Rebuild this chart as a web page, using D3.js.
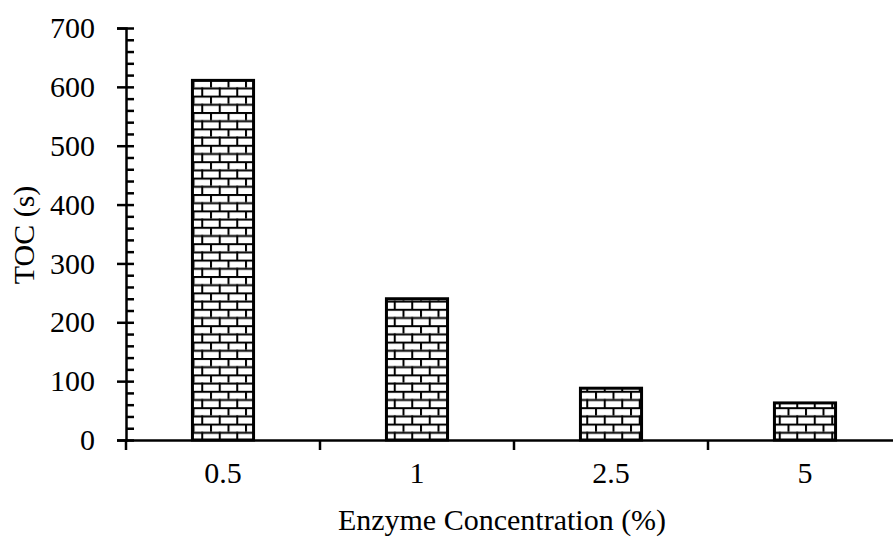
<!DOCTYPE html>
<html>
<head>
<meta charset="utf-8">
<script src="https://cdn.jsdelivr.net/npm/d3@7"></script>
<style>
  body { margin: 0; background: #fff; }
  text { font-family: "Liberation Serif", "Times New Roman", serif; fill: #000; }
</style>
</head>
<body>
<svg id="chart" width="893" height="538"></svg>
<script>
var categories = ["0.5", "1", "2.5", "5"];
var tocValues = [611, 240, 88, 63];
var yTicks = [0, 100, 200, 300, 400, 500, 600, 700];

var svg = d3.select("#chart");

// plot area bounds (pixels)
var plotLeft = 126, plotRight = 902, plotTop = 28, plotBottom = 440;

var xScale = d3.scaleBand()
  .domain(categories)
  .range([plotLeft, plotRight])
  .padding(0);

var yScale = d3.scaleLinear()
  .domain([0, 700])
  .range([plotBottom, plotTop]);

var barWidth = xScale.bandwidth() * 0.315;

// brick pattern fill
var defs = svg.append("defs");
var pw = 17.5, ph = 16.4;
var pat = defs.append("pattern")
  .attr("id", "brick")
  .attr("patternUnits", "userSpaceOnUse")
  .attr("width", pw)
  .attr("height", ph)
  .attr("y", plotBottom);
pat.append("rect").attr("width", pw).attr("height", ph).attr("fill", "#fff");
pat.append("rect").attr("x", 0).attr("y", 0).attr("width", pw).attr("height", 2).attr("fill", "#000");
pat.append("rect").attr("x", 0).attr("y", ph / 2).attr("width", pw).attr("height", 2).attr("fill", "#000");
pat.append("rect").attr("x", 0).attr("y", 0).attr("width", 2).attr("height", ph / 2).attr("fill", "#000");
pat.append("rect").attr("x", pw / 2).attr("y", ph / 2).attr("width", 2).attr("height", ph / 2).attr("fill", "#000");

// bars
svg.selectAll("rect.bar")
  .data(tocValues)
  .enter()
  .append("rect")
  .attr("class", "bar")
  .attr("x", function (d, i) { return xScale(categories[i]) + xScale.bandwidth() / 2 - barWidth / 2; })
  .attr("y", function (d) { return yScale(d); })
  .attr("width", barWidth)
  .attr("height", function (d) { return plotBottom - yScale(d); })
  .attr("fill", "url(#brick)")
  .attr("stroke", "#000")
  .attr("stroke-width", 3);

// y axis: labels + outer major ticks
var leftAxis = d3.axisLeft(yScale)
  .tickValues(yTicks)
  .tickSize(9)
  .tickPadding(22)
  .tickFormat(d3.format("d"));
var gy = svg.append("g")
  .attr("transform", "translate(" + plotLeft + ",0)")
  .call(leftAxis);
gy.select(".domain").attr("stroke", "#000").attr("stroke-width", 2.5);
gy.selectAll(".tick line").attr("stroke", "#000").attr("stroke-width", 2.5);
gy.selectAll(".tick text").style("font-size", "30px");

// y axis: inner minor ticks every 20
var minorTicks = d3.range(0, 701, 20);
var rightAxis = d3.axisRight(yScale)
  .tickValues(minorTicks)
  .tickSize(8)
  .tickFormat("");
var gy2 = svg.append("g")
  .attr("transform", "translate(" + plotLeft + ",0)")
  .call(rightAxis);
gy2.select(".domain").remove();
gy2.selectAll(".tick line").attr("stroke", "#000").attr("stroke-width", 2.5);

// x axis
var bottomAxis = d3.axisBottom(xScale)
  .tickSize(0)
  .tickPadding(22);
var gx = svg.append("g")
  .attr("transform", "translate(0," + plotBottom + ")")
  .call(bottomAxis);
gx.select(".domain").attr("stroke", "#000").attr("stroke-width", 2.5);
gx.selectAll(".tick text").style("font-size", "30px");

// category boundary ticks
gx.selectAll("line.sep")
  .data(d3.range(categories.length + 1))
  .enter()
  .append("line")
  .attr("class", "sep")
  .attr("x1", function (d) { return plotLeft + d * xScale.step(); })
  .attr("x2", function (d) { return plotLeft + d * xScale.step(); })
  .attr("y1", 0)
  .attr("y2", 10)
  .attr("stroke", "#000")
  .attr("stroke-width", 2.5);

// axis titles
svg.append("text")
  .attr("x", 502)
  .attr("y", 530)
  .attr("text-anchor", "middle")
  .style("font-size", "30px")
  .text("Enzyme Concentration (%)");

svg.append("text")
  .attr("transform", "translate(34,235)rotate(-90)")
  .attr("text-anchor", "middle")
  .style("font-size", "30px")
  .text("TOC (s)");
</script>
</body>
</html>
